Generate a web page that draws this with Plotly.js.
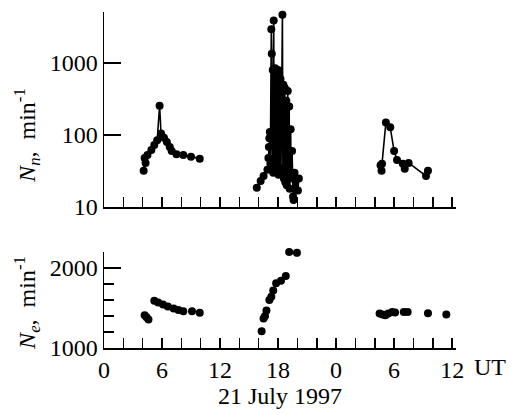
<!DOCTYPE html>
<html>
<head>
<meta charset="utf-8">
<script src="https://cdn.plot.ly/plotly-3.0.1.min.js"></script>
<style>html,body{margin:0;padding:0;background:#fff;}#chart{width:517px;height:415px;}</style>
</head>
<body>
<div id="chart"></div>
<script>
// Hours since 00 UT 21 July 1997
// Neutron count rate Nn (min^-1), three observation intervals
var nTime1 = [4.1, 4.2, 4.3, 4.5, 4.9, 5.2, 5.5, 5.75, 5.9, 6.2, 6.5, 6.8, 7.0, 7.5, 8.2, 9.0, 9.9];
var nVal1  = [32, 48, 41, 53, 62, 73, 85, 255, 105, 92, 80, 68, 60, 54, 53, 50, 47];

var nTime2 = [15.8, 16.2, 16.5, 16.9, 17.0, 17.05, 17.1, 17.15, 17.2, 17.3, 17.35, 17.4, 17.45, 17.5, 17.55, 17.6, 17.7, 17.75, 17.85, 17.9, 18.0, 18.05, 18.1, 18.15, 18.25, 18.3, 18.45, 18.5, 18.55, 18.6, 18.7, 18.75, 18.85, 18.9, 19.0, 19.05, 19.15, 19.2, 19.3, 19.35, 19.45, 19.55, 19.6, 19.7, 19.8, 19.9, 20.05, 20.15];
var nVal2  = [18.5, 23, 27, 33, 48, 68, 90, 110, 40, 2950, 1350, 35, 800, 30, 3900, 45, 850, 35, 700, 30, 800, 28, 750, 35, 600, 30, 4700, 28, 500, 25, 450, 22, 300, 20, 410, 25, 250, 18, 120, 25, 60, 14, 12.5, 30, 18, 25, 17, 25];

var nTime3 = [28.6, 28.7, 28.75, 29.15, 29.6, 30.0, 30.3, 30.9, 31.1, 31.5, 33.3, 33.5];
var nVal3  = [38, 32, 40, 150, 128, 60, 45, 40, 34, 41, 27, 32];

// Electron count rate Ne (min^-1)
var eTime1 = [4.2, 4.4, 4.6, 5.2, 5.6, 6.1, 6.6, 7.2, 7.7, 8.2, 9.1, 9.9];
var eVal1  = [1410, 1385, 1355, 1590, 1570, 1545, 1520, 1495, 1475, 1460, 1460, 1440];

var eTime2 = [16.3, 16.5, 16.65, 16.8, 17.1, 17.3, 17.5, 17.8, 18.3, 18.8, 19.15, 19.95];
var eVal2  = [1210, 1370, 1400, 1470, 1600, 1640, 1720, 1810, 1840, 1900, 2200, 2190];

var eTime3 = [28.5, 28.8, 29.1, 29.4, 29.8, 30.1, 31.0, 31.4, 33.5, 35.4];
var eVal3  = [1430, 1420, 1410, 1430, 1450, 1445, 1450, 1450, 1435, 1420];

var xTickVals = [0, 6, 12, 18, 24, 30, 36];
var xTickText = ['0', '6', '12', '18', '0', '6', '12'];

var FONT = "'Liberation Serif', 'Times New Roman', serif";
var FS = 24;
var mk = {color: '#000', size: 8};
var ln = {color: '#000', width: 1.6};

function nTrace(x, y) {
  return {x: x, y: y, xaxis: 'x2', yaxis: 'y2', mode: 'lines+markers', marker: mk, line: ln, cliponaxis: false, showlegend: false, hoverinfo: 'skip'};
}
function eTrace(x, y) {
  return {x: x, y: y, xaxis: 'x', yaxis: 'y', mode: 'markers', marker: mk, cliponaxis: false, showlegend: false, hoverinfo: 'skip'};
}

var data = [
  nTrace(nTime1, nVal1), nTrace(nTime2, nVal2), nTrace(nTime3, nVal3),
  eTrace(eTime1, eVal1), eTrace(eTime2, eVal2), eTrace(eTime3, eVal3)
];

var xRange = [0, 36.4];
var baseX = {
  range: xRange, showgrid: false, zeroline: false, showline: true, linecolor: '#000', linewidth: 1.5,
  ticks: 'inside', ticklen: 10, tickwidth: 1.5, tickcolor: '#000',
  tickmode: 'array', tickvals: xTickVals, ticktext: xTickText,
  minor: {ticks: 'inside', dtick: 2, tick0: 0, ticklen: 10, tickwidth: 1.5, tickcolor: '#000', showgrid: false}
};
function clone(o, extra) { var r = JSON.parse(JSON.stringify(o)); for (var k in extra) r[k] = extra[k]; return r; }
var tf = {family: FONT, size: FS, color: '#000'};

var layout = {
  width: 517, height: 415,
  margin: {l: 104, r: 61, t: 12, b: 67},
  paper_bgcolor: '#fff', plot_bgcolor: '#fff',
  font: tf,
  xaxis: clone(baseX, {anchor: 'y', domain: [0, 1], tickfont: tf,
    title: {text: '21 July 1997', font: tf, standoff: 2}}),
  xaxis2: clone(baseX, {anchor: 'y2', domain: [0, 1], showticklabels: false}),
  xaxis3: {overlaying: 'x', anchor: 'y', range: xRange, showline: false, showgrid: false, zeroline: false,
    tickmode: 'array', tickvals: [24], ticks: 'inside', ticklen: 17, tickwidth: 1.5, tickcolor: '#000', showticklabels: false},
  xaxis4: {overlaying: 'x2', anchor: 'y2', range: xRange, showline: false, showgrid: false, zeroline: false,
    tickmode: 'array', tickvals: [24], ticks: 'inside', ticklen: 17, tickwidth: 1.5, tickcolor: '#000', showticklabels: false},
  yaxis: {anchor: 'x', domain: [0, 0.2857], range: [1000, 2200], showgrid: false, zeroline: false,
    showline: true, linecolor: '#000', linewidth: 1.5,
    tickmode: 'array', tickvals: [1000, 2000], ticktext: ['1000', '2000'],
    ticks: 'inside', ticklen: 17, tickwidth: 1.5, tickcolor: '#000', tickfont: tf,
    minor: {ticks: 'inside', dtick: 200, tick0: 1000, ticklen: 10, tickwidth: 1.5, tickcolor: '#000', showgrid: false}},
  yaxis2: {anchor: 'x2', domain: [0.4196, 1], type: 'log', range: [1, 3.71], showgrid: false, zeroline: false,
    showline: true, linecolor: '#000', linewidth: 1.5,
    tickmode: 'array', tickvals: [10, 100, 1000], ticktext: ['10', '100', '1000'],
    ticks: 'inside', ticklen: 17, tickwidth: 1.5, tickcolor: '#000', tickfont: tf},
  annotations: [
    {xref: 'paper', yref: 'paper', x: -0.219, y: 0.634, xanchor: 'center', yanchor: 'middle', textangle: -90, showarrow: false,
     text: '<i>N<sub>n</sub></i>,  min<sup>-1</sup>', font: tf},
    {xref: 'paper', yref: 'paper', x: -0.219, y: 0.134, xanchor: 'center', yanchor: 'middle', textangle: -90, showarrow: false,
     text: '<i>N<sub>e</sub></i>,  min<sup>-1</sup>', font: tf},
    {xref: 'paper', yref: 'paper', x: 1.097, y: -0.0565, xanchor: 'center', yanchor: 'middle', showarrow: false,
     text: 'UT', font: tf}
  ]
};

Plotly.newPlot('chart', data, layout, {staticPlot: true, displayModeBar: false});
</script>
</body>
</html>
